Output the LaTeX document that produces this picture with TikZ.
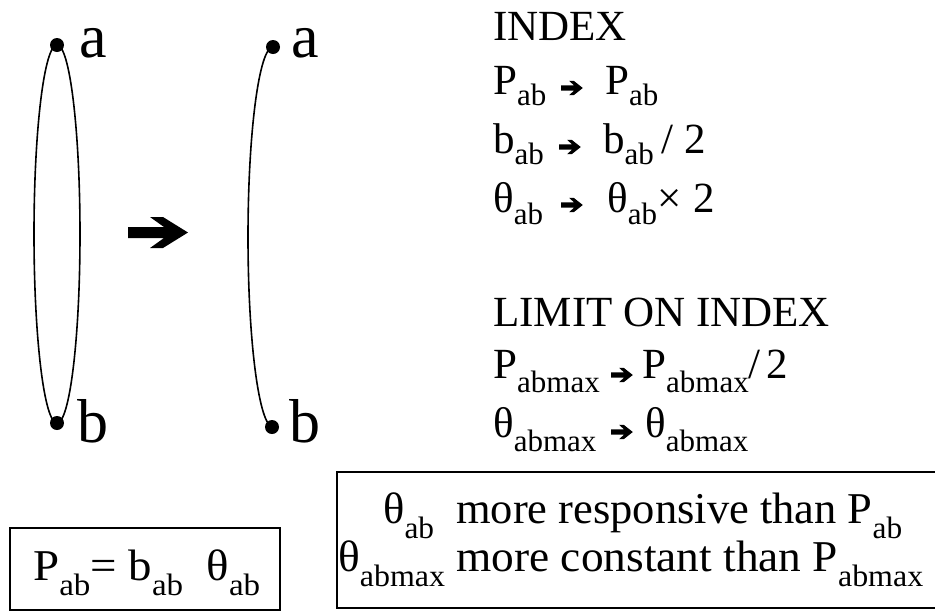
\documentclass[tikz,border=0pt]{standalone}
\usepackage{fontspec}
\setmainfont{Liberation Serif}
\usepackage{graphicx}
\newcommand\fsz[1]{\fontsize{#1}{#1}\selectfont}
\newcommand\sbb[2]{\raisebox{-#1pt}{\fsz{31}#2}}
\tikzset{
  lbl/.style={anchor=base west,inner sep=0pt,font=\fsz{62}},
  txt/.style={anchor=base west,inner sep=0pt,font=\fsz{43}},
  btxt/.style={anchor=base west,inner sep=0pt,font=\fsz{44}},
  curve/.style={line width=1.6pt},
  boxline/.style={line width=2pt},
  smallarrow/.style={xscale=0.36,yscale=0.46},
  bigarrow/.pic={\fill (-30,5.5) -- (6,5.5) -- (-8,15.5) -- (5,15.5) -- (30,0) -- (5,-15.5) -- (-8,-15.5) -- (6,-5.5) -- (-30,-5.5) -- cycle;}
}
\begin{document}
\begin{tikzpicture}[x=1pt,y=-1pt]
\useasboundingbox (0,0) rectangle (935,614);
% left loop
\coordinate (a1) at (57,45);
\coordinate (b1) at (57,423);
\draw[curve] (57,234) ellipse[x radius=23pt,y radius=189pt];
\fill (a1) circle[radius=7pt];
\fill (b1) circle[radius=7pt];
\node[lbl] (la1) at (79,57) {a};
\node[lbl] (lb1) at (77,442) {b};
% middle arrow
\pic at (158,232.5) {bigarrow};
% right half loop
\coordinate (a2) at (273,47);
\coordinate (b2) at (272,427);
\draw[curve] (a2) arc[start angle=90,end angle=270,x radius=25pt,y radius=190pt];
\fill (a2) circle[radius=7pt];
\fill (b2) circle[radius=7pt];
\node[lbl] (la2) at (291,57) {a};
\node[lbl] (lb2) at (289,442) {b};
% INDEX block
\node[txt] (ti) at (493,40) {INDEX};
\node[txt] (l1) at (493,94) {P\sbb{11}{ab}};
\pic[smallarrow] at (572,88) {bigarrow};
\node[txt] (r1) at (605,94) {P\sbb{11}{ab}};
\node[txt] (l2) at (493,153) {b\sbb{11}{ab}};
\pic[smallarrow] at (570,147) {bigarrow};
\node[txt] (r2) at (603,153) {b\sbb{11}{ab}\hspace{8pt}/\hspace{11pt}2};
\node[txt] (l3) at (493,212) {θ\sbb{12}{ab}};
\pic[smallarrow] at (572,205) {bigarrow};
\node[txt] (r3) at (607,212) {θ\sbb{12}{ab}×\hspace{12pt}2};
% LIMIT block
\node[txt] (tl) at (493,326) {LIMIT ON INDEX};
\node[txt] (l4) at (493,378) {P\sbb{14}{abmax}};
\pic[smallarrow] at (622,375) {bigarrow};
\node[txt] (r4) at (642,378) {P\sbb{14}{abmax}/\hspace{6pt}2};
\node[txt] (l5) at (493,437) {θ\sbb{14}{abmax}};
\pic[smallarrow] at (622,432) {bigarrow};
\node[txt] (r5) at (645,437) {θ\sbb{14}{abmax}};
% bottom boxes
\draw[boxline] (10,528) rectangle (280,610);
\node[btxt] (eq) at (33,580) {\resizebox{227pt}{\height}{P\sbb{15}{ab}= b\sbb{15}{ab}\ \ θ\sbb{15}{ab}}};
\draw[boxline] (337,472) rectangle (937,608);
\node[btxt] (c1) at (383,523) {\resizebox{519pt}{\height}{θ\sbb{15}{ab}\ \ more responsive than P\sbb{15}{ab}}};
\node[btxt] (c2) at (338,571) {\resizebox{585pt}{\height}{θ\sbb{15}{abmax} more constant than P\sbb{15}{abmax}}};
\end{tikzpicture}
\end{document}
